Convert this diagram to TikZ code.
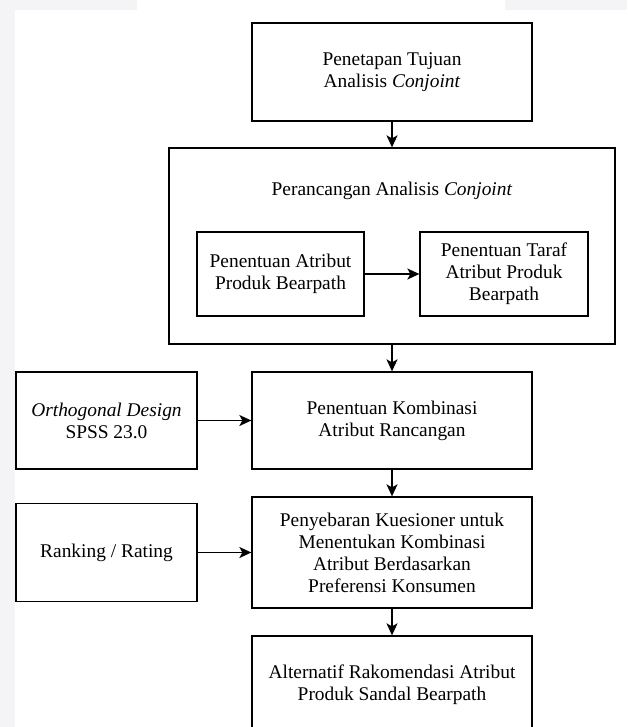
\documentclass[tikz,border=0pt]{standalone}
\usepackage{fontspec}
\setmainfont{Liberation Serif}
\usetikzlibrary{arrows.meta}
\definecolor{pagegray}{HTML}{F4F4F6}

\begin{document}
\begin{tikzpicture}[x=1pt, y=-1pt]
      \useasboundingbox (0, 0) rectangle (627, 727);
      \fill[pagegray] (0, 0) rectangle (15, 727);
      \fill[pagegray] (0, 0) rectangle (137, 10);
      \fill[pagegray] (505, 0) rectangle (627, 10);
      \begin{scope}[
        every node/.style={
        draw,
        line width=1.3pt,
        shape=rectangle,
        align=center,
        inner sep=0pt,
        font=\fontsize{19.4}{22}\selectfont,
        },
        conn/.style={line width=1.5pt, -{Stealth[length=12pt, width=11pt, inset=3pt]}}
      ]
        \node[minimum width=280pt, minimum height=98pt] (a) at (392, 72) {Penetapan Tujuan\\Analisis \textit{Conjoint}};
        \node[minimum width=446pt, minimum height=196pt] (b) at (392, 246) {};
        \node[draw=none] (t) at (392, 191) {Perancangan Analisis \textit{Conjoint}};
        \node[minimum width=167pt, minimum height=84pt] (c) at (280.5, 274) {Penentuan Atribut\\Produk Bearpath};
        \node[minimum width=168pt, minimum height=84pt] (d) at (504, 274) {Penentuan Taraf\\Atribut Produk\\Bearpath};
        \node[minimum width=280pt, minimum height=97pt] (e) at (392, 420.5) {Penentuan Kombinasi\\Atribut Rancangan};
        \node[minimum width=181pt, minimum height=97pt] (f) at (106.5, 420.5) {\textit{Orthogonal Design}\\SPSS 23.0};
        \node[minimum width=280pt, minimum height=111pt] (g) at (392, 552.5) {Penyebaran Kuesioner untuk\\Menentukan Kombinasi\\Atribut Berdasarkan\\Preferensi Konsumen};
        \node[minimum width=181pt, minimum height=98pt] (h) at (106.5, 552.5) {Ranking / Rating};
        \node[minimum width=280pt, minimum height=98pt] (i) at (392, 685) {Alternatif Rakomendasi Atribut\\Produk Sandal Bearpath};

        \draw[conn] (a) -- (b);
        \draw[conn] (c) -- (d);
        \draw[conn] (b) -- (e);
        \draw[conn] (f) -- (e);
        \draw[conn] (e) -- (g);
        \draw[conn] (h) -- (g);
        \draw[conn] (g) -- (i);
      \end{scope}
    \end{tikzpicture}
\end{document}
